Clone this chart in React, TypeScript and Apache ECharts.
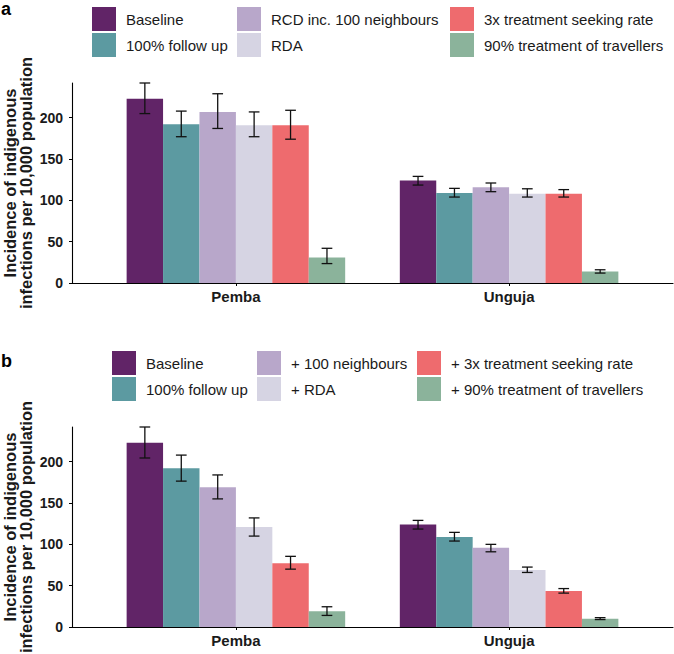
import React, { useEffect, useRef } from "react";
import * as echarts from "echarts";

const categories = ["Pemba", "Unguja"];
const namesA = ["Baseline", "100% follow up", "RCD inc. 100 neighbours", "RDA", "3x treatment seeking rate", "90% treatment of travellers"];
const namesB = ["Baseline", "100% follow up", "+ 100 neighbours", "+ RDA", "+ 3x treatment seeking rate", "+ 90% treatment of travellers"];
const colors = ["#612467", "#5C9AA1", "#B8A7CA", "#D6D4E3", "#EE6B6E", "#8BB39B"];

// [Pemba, Unguja] per scenario
const meanA = [[223, 124], [192, 109], [207, 116], [191, 108], [191, 108], [31, 14]];
const lowA = [[205, 118.5], [177, 104], [187, 110.5], [177, 104], [174, 104], [23.5, 12]];
const highA = [[242, 129], [208, 114.5], [229, 121], [207, 114], [209, 113], [42, 16]];

const meanB = [[223, 124], [192, 109], [169, 96], [121, 69], [77, 43.5], [19, 10]];
const lowB = [[204.5, 118.5], [176.5, 104], [155, 91], [110, 66], [70, 41], [14, 9]];
const highB = [[242, 129], [208, 114.5], [184, 100], [132, 72.5], [85.5, 46.5], [24.5, 11.3]];

const yTicks = [0, 50, 100, 150, 200];
const yMax = 242;

const FONT = "'Liberation Sans', Arial, Helvetica, sans-serif";
const TEXT = "#1a1a1a";

export default function App() {
  const ref = useRef<HTMLDivElement>(null);
  useEffect(() => {
    document.body.style.margin = "0";
    const chart = echarts.init(ref.current!, null, { renderer: "svg" });

    const makeSeries = (names: string[], mean: number[][], low: number[][], high: number[][], gi: number) =>
      names.map((name, k) => ({
        type: "custom",
        name,
        xAxisIndex: gi,
        yAxisIndex: gi,
        itemStyle: { color: colors[k] },
        encode: { x: 0, y: 1 },
        data: categories.map((_, ci) => [ci + 1, mean[k][ci], low[k][ci], high[k][ci]]),
        renderItem: (params: any, api: any) => {
          const cat = api.value(0);
          const v = api.value(1);
          const lo = api.value(2);
          const hi = api.value(3);
          const bw = 0.8 / names.length;
          const x0 = cat - 0.4 + k * bw;
          const p0 = api.coord([x0, v]);
          const p1 = api.coord([x0 + bw, 0]);
          const cx = (p0[0] + p1[0]) / 2;
          const half = (p1[0] - p0[0]) * 0.147;
          const yl = api.coord([x0, lo])[1];
          const yh = api.coord([x0, hi])[1];
          const es = { stroke: "#111", lineWidth: 1.3 };
          return {
            type: "group",
            children: [
              {
                type: "rect",
                shape: { x: p0[0], y: p0[1], width: p1[0] - p0[0], height: p1[1] - p0[1] },
                style: { fill: colors[k] },
              },
              { type: "line", shape: { x1: cx, y1: yl, x2: cx, y2: yh }, style: es },
              { type: "line", shape: { x1: cx - half, y1: yl, x2: cx + half, y2: yl }, style: es },
              { type: "line", shape: { x1: cx - half, y1: yh, x2: cx + half, y2: yh }, style: es },
            ],
          };
        },
      }));

    const xAxis = (gi: number) => ({
      type: "value",
      gridIndex: gi,
      min: 0.4,
      max: 2.6,
      splitLine: { show: false },
      axisLine: { show: true, lineStyle: { color: "#000", width: 1.1 } },
      axisTick: { show: true, length: 3, lineStyle: { color: "#000" }, customValues: [1, 2] },
      axisLabel: {
        customValues: [1, 2],
        formatter: (v: number) => categories[Math.round(v) - 1] ?? "",
        fontSize: 15,
        fontWeight: "bold",
        color: TEXT,
        fontFamily: FONT,
        margin: 6,
      },
    });
    const yAxis = (gi: number) => ({
      type: "value",
      gridIndex: gi,
      min: 0,
      max: yMax,
      splitLine: { show: false },
      axisLine: { show: true, lineStyle: { color: "#000", width: 1.1 } },
      axisTick: { show: true, length: 3, lineStyle: { color: "#000" }, customValues: yTicks },
      axisLabel: {
        customValues: yTicks,
        fontSize: 14,
        fontWeight: "bold",
        color: TEXT,
        fontFamily: FONT,
        margin: 9,
      },
    });

    const legend = (names: string[], left: number, top: number) => ({
      orient: "vertical",
      left,
      top,
      itemWidth: 24,
      itemHeight: 24,
      itemGap: 2,
      padding: 0,
      icon: "rect",
      selectedMode: false,
      data: names,
      textStyle: { fontSize: 15, color: TEXT, fontFamily: FONT, padding: [0, 0, 0, 5] },
    });

    const ytitle = (y: number) => ({
      type: "text",
      x: 18,
      y,
      rotation: Math.PI / 2,
      style: {
        text: "Incidence of indigenous\ninfections per 10,000 population",
        fontSize: 16.5,
        fontWeight: "bold",
        fontFamily: FONT,
        lineHeight: 15.5,
        fill: TEXT,
        align: "center",
        verticalAlign: "middle",
        textAlign: "center",
        textVerticalAlign: "middle",
      },
    });
    const panelLabel = (t: string, y: number) => ({
      type: "text",
      x: 1,
      y,
      style: {
        text: t,
        fontSize: 18,
        fontWeight: "bold",
        fontFamily: FONT,
        fill: "#000",
        align: "left",
        verticalAlign: "middle",
        textAlign: "left",
        textVerticalAlign: "middle",
      },
    });

    chart.setOption({
      animation: false,
      grid: [
        { left: 72, right: 1, top: 83, height: 200 },
        { left: 72, right: 1, top: 427, height: 200 },
      ],
      xAxis: [xAxis(0), xAxis(1)],
      yAxis: [yAxis(0), yAxis(1)],
      legend: [
        legend(namesA.slice(0, 2), 92, 7),
        legend(namesA.slice(2, 4), 237, 7),
        legend(namesA.slice(4, 6), 450, 7),
        legend(namesB.slice(0, 2), 112, 351),
        legend(namesB.slice(2, 4), 257, 351),
        legend(namesB.slice(4, 6), 417, 351),
      ],
      graphic: [ytitle(183), ytitle(527), panelLabel("a", 9), panelLabel("b", 361)],
      series: [...makeSeries(namesA, meanA, lowA, highA, 0), ...makeSeries(namesB, meanB, lowB, highB, 1)],
    });
    return () => chart.dispose();
  }, []);
  return <div ref={ref} style={{ width: 674, height: 654 }} />;
}
